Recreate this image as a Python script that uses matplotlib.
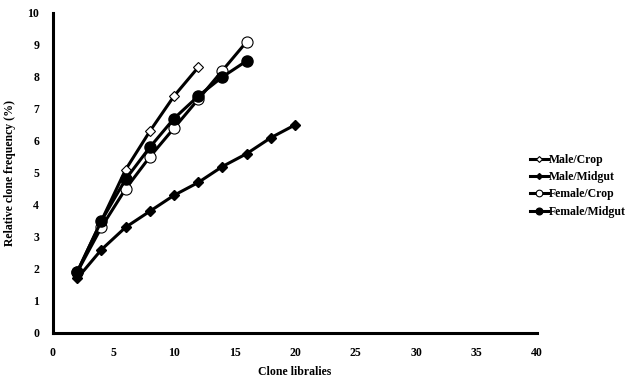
import matplotlib
matplotlib.use("Agg")
import matplotlib.pyplot as plt

plt.rcParams["font.family"] = ["Liberation Serif", "DejaVu Serif"]
plt.rcParams["font.weight"] = "bold"

male_crop_x = [2, 4, 6, 8, 10, 12]
male_crop_y = [1.9, 3.5, 5.1, 6.3, 7.4, 8.3]
male_midgut_x = [2, 4, 6, 8, 10, 12, 14, 16, 18, 20]
male_midgut_y = [1.7, 2.6, 3.3, 3.8, 4.3, 4.7, 5.2, 5.6, 6.1, 6.5]
female_crop_x = [2, 4, 6, 8, 10, 12, 14, 16]
female_crop_y = [1.9, 3.3, 4.5, 5.5, 6.4, 7.3, 8.2, 9.1]
female_midgut_x = [2, 4, 6, 8, 10, 12, 14, 16]
female_midgut_y = [1.9, 3.5, 4.8, 5.8, 6.7, 7.4, 8.0, 8.5]

fig = plt.figure(figsize=(6.38, 3.8), dpi=100)
ax = fig.add_axes([0.083, 0.124, 0.759, 0.842])

ax.plot(male_crop_x, male_crop_y, color="black", lw=2.2, marker="D", ms=5,
        mfc="white", mec="black", mew=0.8, label="Male/Crop")
ax.plot(male_midgut_x, male_midgut_y, color="black", lw=2.2, marker="D", ms=5,
        mfc="black", mec="black", label="Male/Midgut")
ax.plot(female_crop_x, female_crop_y, color="black", lw=2.2, marker="o", ms=8,
        mfc="white", mec="black", mew=0.8, label="Female/Crop")
ax.plot(female_midgut_x, female_midgut_y, color="black", lw=2.2, marker="o", ms=8,
        mfc="black", mec="black", label="Female/Midgut")

ax.set_xlim(0, 40)
ax.set_ylim(0, 10)
ax.set_xticks(range(0, 41, 5))
ax.set_yticks(range(0, 11))
ax.tick_params(length=0, labelsize=8.5, pad=10)
for s in ["top", "right"]:
    ax.spines[s].set_visible(False)
for s in ["left", "bottom"]:
    ax.spines[s].set_linewidth(2.2)

ax.set_xlabel("Clone libralies", fontsize=8.5, fontweight="bold", labelpad=5)
ax.set_ylabel("Relative clone frequency (%)", fontsize=8.5, fontweight="bold", labelpad=8)

leg = ax.legend(loc="center left", bbox_to_anchor=(0.975, 0.46), frameon=False,
                fontsize=8.5, handlelength=1.5, handletextpad=0.1, labelspacing=0.45,
                markerscale=0.6, borderaxespad=0)

fig.savefig("out.png", dpi=100)
